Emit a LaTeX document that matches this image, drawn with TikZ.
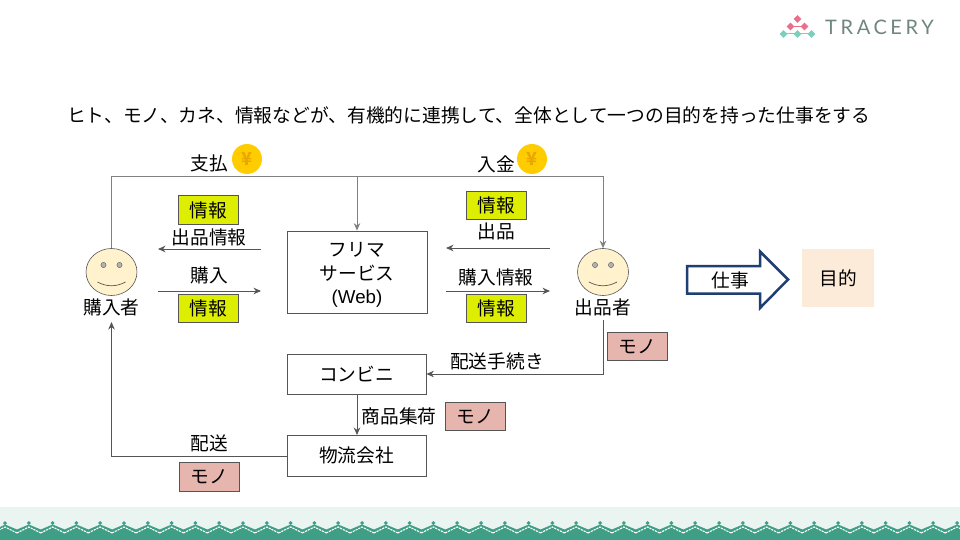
\documentclass[tikz,border=0pt]{standalone}
\usepackage{fontspec}
\setmainfont{Noto Sans CJK JP}
\newfontfamily\logofont[LetterSpace=18]{Lato}
\newfontfamily\webfont{Liberation Sans}
\usetikzlibrary{arrows.meta,shapes.geometric}
\definecolor{linedark}{HTML}{555555}
\definecolor{linegray}{HTML}{808080}
\definecolor{tagyellow}{HTML}{DDEE00}
\definecolor{tagpink}{HTML}{E6B5AE}
\definecolor{facefill}{HTML}{FFF2CC}
\definecolor{coinfill}{HTML}{FFCC00}
\definecolor{coinmark}{HTML}{E8A800}
\definecolor{goalfill}{HTML}{FDEBD9}
\definecolor{navy}{HTML}{1F3F73}
\definecolor{bandlight}{HTML}{EAF4F1}
\definecolor{banddark}{HTML}{3F9E86}
\definecolor{logored}{HTML}{E8708A}
\definecolor{logogreen}{HTML}{7CCFBC}
\definecolor{logotext}{HTML}{6F8580}
\tikzset{
  x=1pt,y=-1pt,
  every node/.style={font=\fontsize{18.7}{23.5}\selectfont, inner sep=0pt},
  mainbox/.style={draw=linedark,line width=.8pt,fill=white,align=center,anchor=center},
  tag/.style={draw=linedark,line width=.8pt,minimum width=60pt,minimum height=28.5pt},
  info/.style={tag,fill=tagyellow},
  goods/.style={tag,fill=tagpink},
  conn/.style={draw=linedark,line width=.8pt,-{Stealth[length=7.5pt,width=6.5pt]}},
  graylink/.style={draw=linegray,line width=1pt},
  grayarrow/.style={graylink,-{Stealth[length=7.5pt,width=6.5pt]}},
  face/.style={draw=linedark,line width=.6pt,fill=facefill,ellipse,minimum width=51pt,minimum height=47pt},
  coin/.style={circle,fill=coinfill,minimum size=30pt,text=coinmark,font=\fontsize{18}{18}\selectfont\bfseries},
}
\begin{document}
\begin{tikzpicture}
\useasboundingbox (0,0) rectangle (960,540);
% footer band
\fill[bandlight] (0,507) rectangle (960,540);
\fill[banddark] (0,540) -- (0,527)
  \foreach \k in {0,...,40} { -- ({\k*23.8+5},524.5) -- ({\k*23.8+17},529.5) } -- (960,527) -- (960,540) -- cycle;
\foreach \k in {0,...,40} {
  \draw[white,line width=1.1pt,dash pattern=on 2.2pt off .9pt] ({\k*23.8-7},533) -- ({\k*23.8+5},527) -- ({\k*23.8+17},533);
  \fill[banddark] ({\k*23.8+5},523) ++(-2,0) -- ++(2,-2) -- ++(2,2) -- ++(-2,2) -- cycle;
}
% logo
\coordinate (logoTop) at (797.5,19);
\coordinate (logoL) at (790.5,26.5);
\coordinate (logoR) at (804.5,26.5);
\coordinate (logoA) at (783.5,34);
\coordinate (logoB) at (797.5,34);
\coordinate (logoC) at (811.5,34);
\draw[logored,line width=1pt] (logoL) -- (logoR);
\draw[logogreen,line width=1pt] (logoA) -- (logoC);
\foreach \p in {logoTop,logoL,logoR} \fill[logored] (\p) ++(-3.8,0) -- ++(3.8,-3.8) -- ++(3.8,3.8) -- ++(-3.8,3.8) -- cycle;
\foreach \p in {logoA,logoB,logoC} \fill[logogreen] (\p) ++(-3.8,0) -- ++(3.8,-3.8) -- ++(3.8,3.8) -- ++(-3.8,3.8) -- cycle;
\node[anchor=west,text=logotext,font=\logofont\fontsize{20}{20}\selectfont] (logotxt) at (825,27) {TRACERY};
% title
\node[anchor=west,font=\fontsize{18.75}{22}\selectfont] (title) at (67,115) {ヒト、モノ、カネ、情報などが、有機的に連携して、全体として一つの目的を持った仕事をする};
% main boxes
\node[mainbox,minimum width=140pt,minimum height=82pt] (web) at (357,272) {};
\node[align=center] (webtext) at (357,275) {フリマ\\サービス\\{\webfont (Web)}};
\node[mainbox,minimum width=139pt,minimum height=40pt] (cvs) at (356.5,374) {コンビニ};
\node[mainbox,minimum width=139pt,minimum height=41pt] (logi) at (356.5,455.5) {物流会社};
% people
\node[face] (buyer) at (111.5,272) {};
\node[face] (seller) at (603,272) {};
\node (buyerlabel) at (111.5,307) {購入者};
\node (sellerlabel) at (603,307) {出品者};
\foreach \c in {111.5,603} {
  \fill[black!30,draw=linedark,line width=.4pt] (\c-8,265) circle (2.6);
  \fill[black!30,draw=linedark,line width=.4pt] (\c+8,265) circle (2.6);
  \draw[linedark,line width=.7pt] (\c-14,282) .. controls (\c-5,287) and (\c+5,287) .. (\c+14,282);
}
% connector junctions
\coordinate (tl) at (111.5,177);
\coordinate (tr) at (603,177);
\coordinate (tm) at (357,177);
\coordinate (bl) at (111.5,456);
\coordinate (br) at (603,374);
\coordinate (sellerbottom) at (603,320);
\coordinate (buyerbottom) at (111.5,322);
\coordinate (a1s) at (261,249); \coordinate (a1e) at (158,249);
\coordinate (a2s) at (158,291); \coordinate (a2e) at (261,291);
\coordinate (a3s) at (550,248); \coordinate (a3e) at (446,248);
\coordinate (a4s) at (446,291); \coordinate (a4e) at (550,291);
\coordinate (logil) at (287,456);
\coordinate (cvsb) at (357,394);
\coordinate (logit) at (357,435);
% connectors
\draw[graylink] (buyer.north) -- (tl) -- (tm);
\draw[grayarrow] (tm) -- (tr) -- (seller.north);
\draw[grayarrow] (tm) -- (web.north);
\draw[conn] (a1s) -- (a1e);
\draw[conn] (a2s) -- (a2e);
\draw[conn] (a3s) -- (a3e);
\draw[conn] (a4s) -- (a4e);
\draw[conn] (sellerbottom) -- (br) -- (cvs.east);
\draw[conn] (cvsb) -- (logit);
\draw[conn] (logil) -- (bl) -- (buyerbottom);
% labels
\node (payl) at (209,163) {支払};
\node[coin] (coinl) at (247,159) {¥};
\node (inl) at (496,164) {入金};
\node[coin] (coinr) at (532,159) {¥};
\node[info] (t1) at (208.5,210) {情報};
\node (l1) at (209,237.5) {出品情報};
\node (l2) at (209,275.5) {購入};
\node[info] (t2) at (208.5,308.5) {情報};
\node[info] (t3) at (496.5,205.5) {情報};
\node (l3) at (496,231.5) {出品};
\node (l4) at (496,277.5) {購入情報};
\node[info] (t4) at (496.5,308.5) {情報};
\node[goods] (g1) at (637,346.5) {モノ};
\node (l5) at (497,361) {配送手続き};
\node (l6) at (399,416.5) {商品集荷};
\node[goods] (g2) at (475,416.5) {モノ};
\node (l7) at (209,443.5) {配送};
\node[goods] (g3) at (209.5,477) {モノ};
% work arrow
\draw[navy,line width=2.5pt,fill=white,line join=miter] (687,266) -- (760,266) -- (760,251.5) -- (788,279.5) -- (760,308) -- (760,293.5) -- (687,293.5) -- cycle;
\node (work) at (730,280.5) {仕事};
\node[fill=goalfill,minimum width=72pt,minimum height=58pt] (goal) at (838,278) {目的};
\end{tikzpicture}
\end{document}
